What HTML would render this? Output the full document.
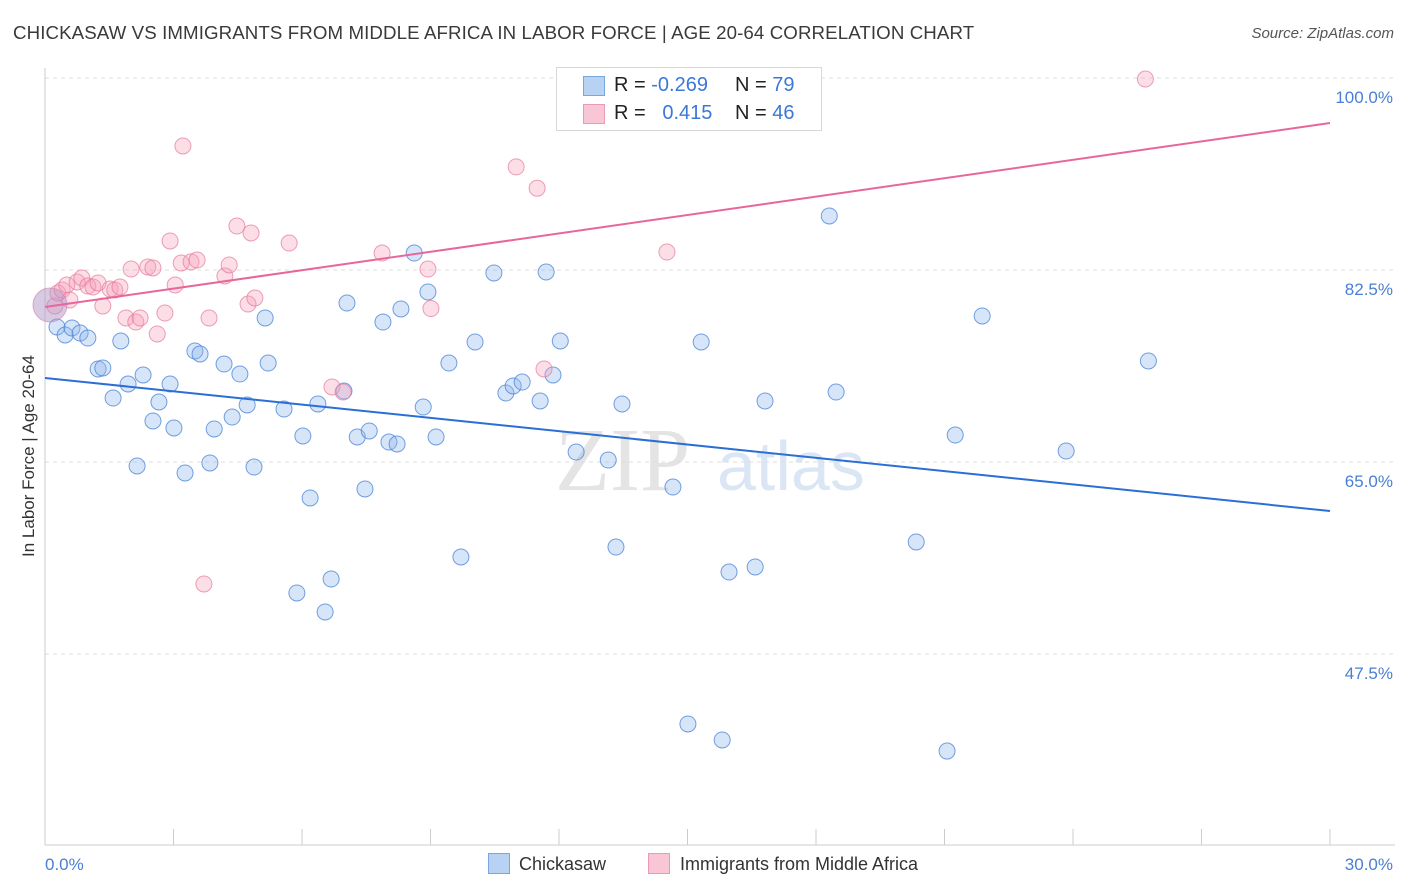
<!DOCTYPE html>
<html><head><meta charset="utf-8"><style>
body{margin:0;background:#fff;font-family:"Liberation Sans",sans-serif;}
#wrap{position:relative;width:1406px;height:892px;overflow:hidden;}
.t{position:absolute;white-space:nowrap;}
</style></head><body>
<div id="wrap">
<div class="t" style="left:13px;top:22px;font-size:18.7px;color:#3a3a3a;letter-spacing:0.1px">CHICKASAW VS IMMIGRANTS FROM MIDDLE AFRICA IN LABOR FORCE | AGE 20-64 CORRELATION CHART</div>
<div class="t" style="right:12px;top:25px;font-size:15px;color:#555;font-style:italic">Source: ZipAtlas.com</div>
<svg id="svg" width="1406" height="892" style="position:absolute;left:0;top:0"></svg>
</div>
<script>
const blueX=[0.28,0.47,0.63,0.82,1.00,1.24,1.35,1.59,1.77,1.94,2.15,2.29,2.52,2.66,2.92,3.01,3.27,3.50,3.62,3.85,3.95,4.18,4.37,4.55,4.72,4.88,5.14,5.21,5.58,5.88,6.19,6.02,6.37,6.54,6.68,6.98,7.05,7.29,7.47,7.57,7.89,8.03,8.22,8.31,8.62,8.83,8.94,9.13,9.43,9.71,10.04,10.48,10.76,10.93,11.14,11.56,11.70,11.86,12.03,12.40,13.15,13.33,13.47,14.66,15.01,15.32,15.81,15.97,16.58,16.81,18.31,18.47,20.34,21.06,21.25,21.88,23.84,25.76];
const blueY=[77.31,76.58,77.22,76.76,76.30,73.48,73.57,70.83,76.03,72.11,64.64,72.93,68.74,70.47,72.11,68.10,64.00,75.12,74.85,64.91,68.01,73.93,69.10,73.02,70.20,64.54,78.13,74.02,69.83,53.06,61.72,67.37,70.29,51.33,54.33,71.47,79.49,67.28,62.54,67.83,77.76,66.82,66.64,78.95,84.05,70.01,80.50,67.28,74.02,56.34,75.94,82.23,71.29,71.93,72.29,70.56,82.32,72.93,76.03,65.91,65.18,57.25,70.29,62.72,41.12,75.94,39.66,54.97,55.43,70.56,87.43,71.38,57.71,38.65,67.46,78.31,66.00,74.21];
const pinkX=[0.23,0.30,0.40,0.51,0.58,0.75,0.86,1.00,1.12,1.24,1.35,1.52,1.63,1.75,1.89,2.01,2.12,2.22,2.40,2.52,2.62,2.80,2.92,3.04,3.18,3.22,3.41,3.55,3.71,3.83,4.20,4.30,4.48,4.74,4.81,4.90,5.70,6.70,6.96,7.87,8.94,9.01,11.00,11.49,11.65,14.52,25.69];
const pinkY=[79.22,80.41,80.68,81.14,79.77,81.41,81.77,81.04,80.95,81.32,79.22,80.77,80.68,80.95,78.13,82.59,77.76,78.13,82.78,82.69,76.67,78.58,85.15,81.14,83.14,93.81,83.24,83.41,53.88,78.13,81.96,82.96,86.51,79.40,85.88,79.95,84.96,71.84,71.38,84.05,82.59,78.99,91.90,89.96,73.48,84.14,99.91];
const blueTrend=[72.66,60.53];
const pinkTrend=[79.13,95.9];
const yTicks=[100,82.5,65,47.5];
const yTickLabels=["100.0%","82.5%","65.0%","47.5%"];
const xTicks=[0,3,6,9,12,15,18,21,24,27,30];
const sx=v=>45+v*1285/30;
const sy=v=>462-(v-65)*10.97;
const svg=document.getElementById('svg');
const NS='http://www.w3.org/2000/svg';
function mk(tag,attrs,txt){const e=document.createElementNS(NS,tag);for(const k in attrs)e.setAttribute(k,attrs[k]);if(txt!=null)e.textContent=txt;svg.appendChild(e);return e;}
let w=mk('text',{x:555,y:490,'font-size':90,fill:'#e4e4e4','font-family':'Liberation Serif,serif'},'ZIP');


w=mk('text',{x:717,y:490,'font-size':70,fill:'#dbe6f5','font-family':'Liberation Sans,sans-serif'},'atlas');


yTicks.forEach((t,i)=>{
 const g=mk('line',{x1:45,x2:1393,y1:sy(t),y2:sy(t),stroke:'#dddddd','stroke-dasharray':'4,4'});
 
 
 const l=mk('text',{x:1393,y:sy(t)+25,'text-anchor':'end','font-size':17,fill:'#4a7fd4'},yTickLabels[i]);
 
 
});
let a=mk('line',{x1:45,x2:45,y1:68,y2:845,stroke:'#cccccc'});


a=mk('line',{x1:45,x2:1395,y1:845,y2:845,stroke:'#cccccc'});


xTicks.forEach(t=>{const l=mk('line',{x1:sx(t),x2:sx(t),y1:829,y2:845,stroke:'#cccccc'});
 
 });
function dots(X,Y,fill,stroke,name){X.forEach((x,i)=>{const c=mk('circle',{cx:sx(x),cy:sy(Y[i]),r:8,fill:fill,stroke:stroke,'stroke-width':1});
 
 });}
dots(blueX,blueY,'rgba(140,180,235,0.35)','rgba(70,130,215,0.75)','chickasaw-point');
dots(pinkX,pinkY,'rgba(245,160,185,0.35)','rgba(230,120,155,0.7)','middle-africa-point');
let big=mk('circle',{cx:50,cy:305,r:17,fill:'rgba(180,150,200,0.5)',stroke:'rgba(200,130,170,0.6)'});


let tl=mk('line',{x1:sx(0),y1:sy(blueTrend[0]),x2:sx(30),y2:sy(blueTrend[1]),stroke:'#2b6fd6','stroke-width':2});


tl=mk('line',{x1:sx(0),y1:sy(pinkTrend[0]),x2:sx(30),y2:sy(pinkTrend[1]),stroke:'#e8679a','stroke-width':2});


let xl=mk('text',{x:45,y:870,'font-size':17,fill:'#4a7fd4'},'0.0%');


xl=mk('text',{x:1393,y:870,'text-anchor':'end','font-size':17,fill:'#4a7fd4'},'30.0%');


let yt=mk('text',{x:0,y:0,'font-size':17,fill:'#333','text-anchor':'middle',transform:'translate(34,456) rotate(-90)'},'In Labor Force | Age 20-64');


</script>
<div class="t" style="left:556px;top:67px;width:264px;height:62px;border:1px solid #d8d8d8;background:#fff;font-size:20px;color:#222">
 <div style="position:absolute;left:26px;top:8px;width:20px;height:18px;background:#b8d2f3;border:1px solid #7aa6e0"></div>
 <div style="position:absolute;left:57px;top:6px">R = <span style="color:#3b78d8">-0.269</span></div>
 <div style="position:absolute;left:178px;top:6px">N = <span style="color:#3b78d8">79</span></div>
 <div style="position:absolute;left:26px;top:36px;width:20px;height:18px;background:#f9c6d5;border:1px solid #ea9ab5"></div>
 <div style="position:absolute;left:57px;top:34px">R = &nbsp;&nbsp;<span style="color:#3b78d8">0.415</span></div>
 <div style="position:absolute;left:178px;top:34px">N = <span style="color:#3b78d8">46</span></div>
</div>
<div class="t" style="left:488px;top:853px;font-size:18px;color:#333"><span style="display:inline-block;width:20px;height:19px;background:#b8d2f3;border:1px solid #7aa6e0;vertical-align:-4px;margin-right:9px"></span>Chickasaw</div>
<div class="t" style="left:648px;top:853px;font-size:18px;color:#333"><span style="display:inline-block;width:20px;height:19px;background:#f9c6d5;border:1px solid #ea9ab5;vertical-align:-4px;margin-right:10px"></span>Immigrants from Middle Africa</div>
</body></html>
